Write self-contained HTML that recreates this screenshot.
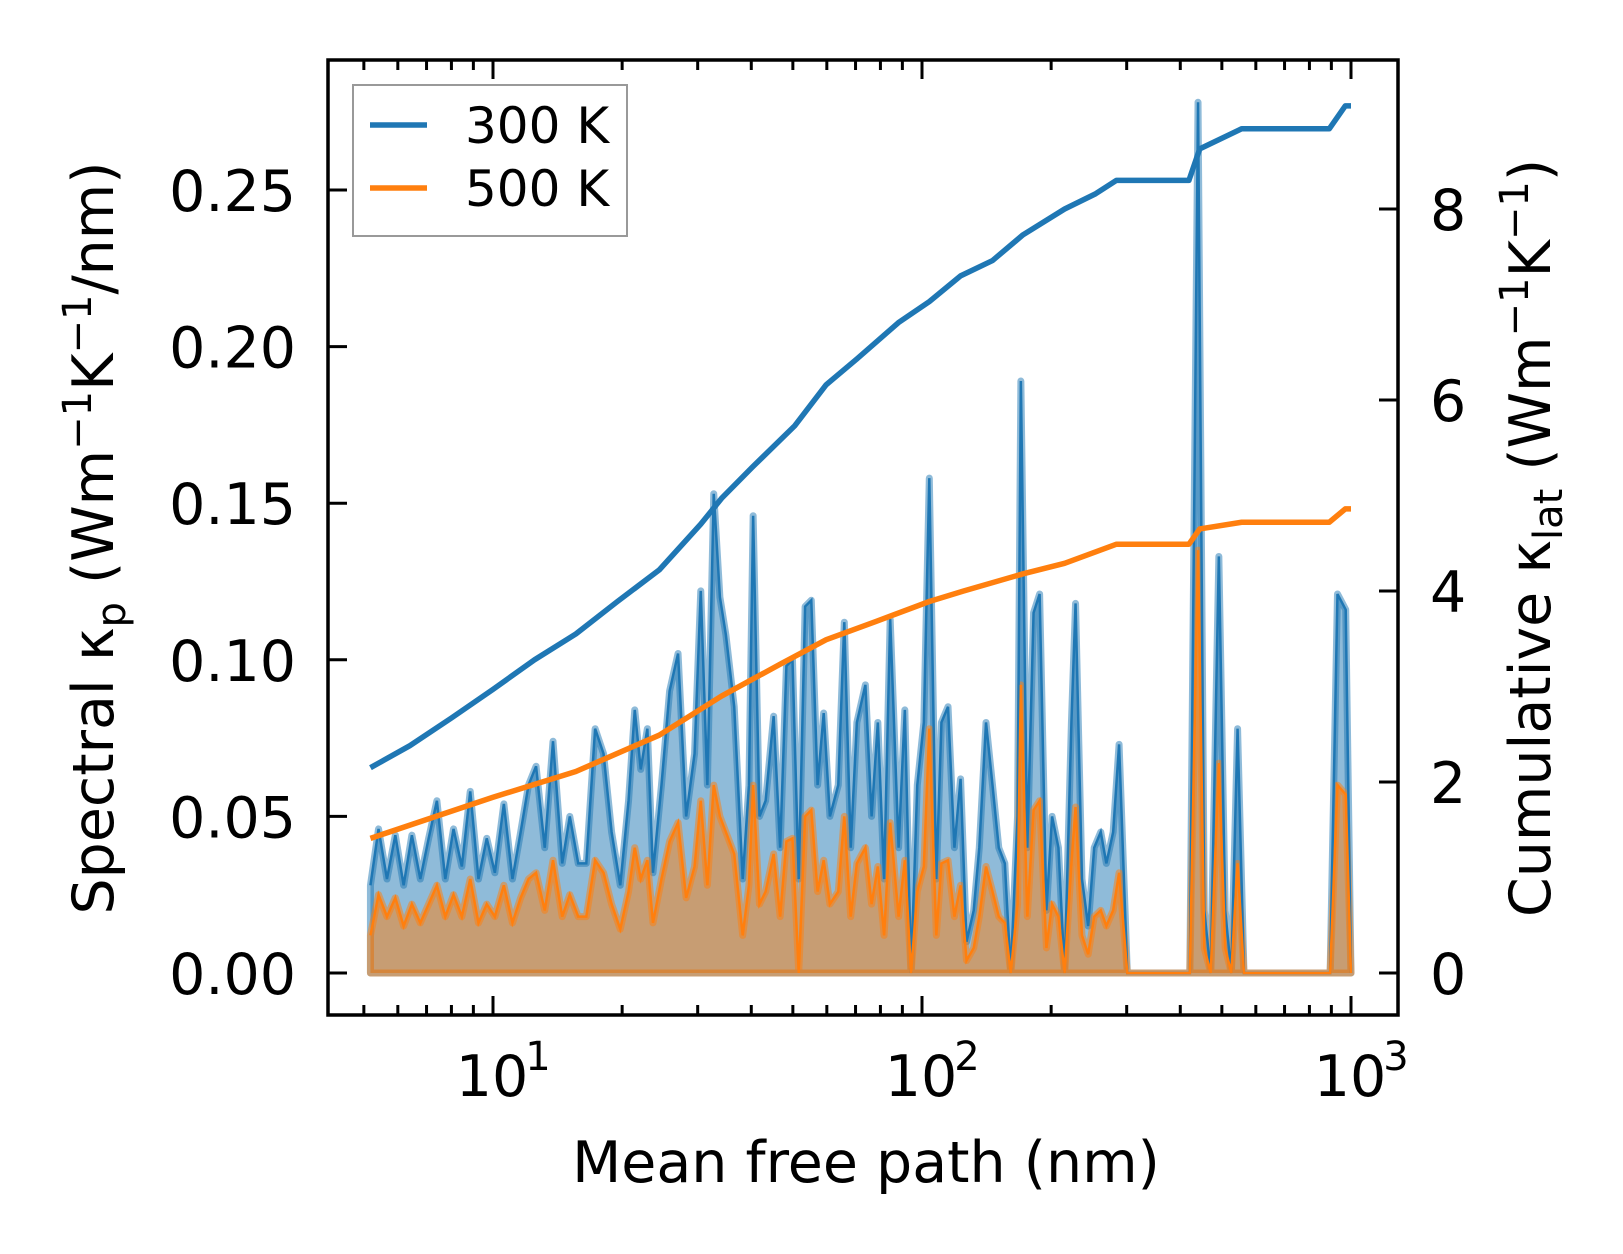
<!DOCTYPE html>
<html><head><meta charset="utf-8">
<style>
html,body{margin:0;padding:0;background:#fff;}
svg{display:block;font-family:"DejaVu Sans","Liberation Sans",sans-serif;}
</style></head>
<body>
<svg id="chart" width="1623" height="1254" viewBox="0 0 1623 1254" xmlns="http://www.w3.org/2000/svg">
<g id="fills"></g>
<g id="lines"></g>
<g id="axes"></g>
</svg>
<script>
const specMfp=[5.18,5.41,5.66,5.92,6.19,6.47,6.77,7.08,7.40,7.74,8.09,8.46,8.85,9.25,9.67,10.1,10.6,11.1,11.6,12.1,12.6,13.2,13.8,14.5,15.1,15.8,16.5,17.3,18.1,18.9,19.8,20.7,21.4,22.1,22.9,23.6,24.7,25.8,27.0,28.2,29.5,30.5,31.6,32.7,33.8,34.9,36.5,38.2,39.5,40.4,41.8,43.2,45.1,46.7,48.3,49.9,51.6,53.4,55.2,57.1,59.0,61.0,63.8,65.9,68.2,70.5,73.8,76.3,78.9,81.6,84.3,88.2,91.2,94.3,97.5,101,104,108,111,115,119,123,127,132,136,141,146,151,156,161,167,170,176,182,188,195,201,208,215,223,228,236,244,252,261,269,279,288,301,421,440,455,471,492,509,526,544,563,894,930,972,1000];
const spec300=[.028,.046,.030,.044,.028,.044,.030,.043,.055,.030,.046,.034,.058,.030,.043,.032,.054,.030,.045,.060,.066,.040,.074,.035,.050,.035,.035,.078,.070,.045,.028,.055,.084,.065,.078,.032,.060,.090,.102,.050,.070,.122,.060,.153,.120,.108,.085,.030,.060,.146,.050,.055,.082,.040,.098,.100,.030,.117,.119,.060,.083,.050,.060,.112,.040,.080,.092,.050,.080,.030,.113,.040,.084,0,.060,.080,.158,.030,.080,.085,.040,.062,.010,.020,.040,.080,.060,.040,.035,0,.050,.189,.040,.115,.121,.020,.050,.040,0,.080,.118,.030,.015,.040,.045,.035,.045,.073,0,0,.278,.020,0,.133,.020,0,.078,0,0,.121,.116,0];
const spec500=[.012,.025,.018,.024,.015,.022,.016,.022,.028,.018,.025,.018,.030,.016,.022,.018,.028,.016,.024,.030,.032,.020,.036,.018,.025,.018,.018,.036,.032,.022,.014,.026,.040,.030,.036,.016,.030,.042,.048,.024,.034,.055,.028,.060,.050,.045,.038,.012,.028,.060,.022,.026,.038,.018,.042,.043,0,.050,.052,.026,.036,.022,.026,.050,.018,.035,.040,.022,.034,.012,.048,.018,.036,0,.026,.034,.078,.012,.035,.036,.018,.028,.004,.008,.018,.034,.026,.018,.016,0,.022,.092,.018,.052,.055,.008,.022,.018,0,.035,.053,.012,.006,.018,.020,.015,.020,.032,0,0,.135,.008,0,.067,.008,0,.035,0,0,.060,.057,0];
const cumMfp300=[5.18,6.4,8.0,10,12.5,15.6,19.5,24.4,30.5,34.1,40.3,50.5,59.8,70.5,88.1,104,123,146,172,215,254,284,419,444,556,890,970,1000];
const cum300=[2.15,2.38,2.67,2.97,3.28,3.55,3.89,4.22,4.70,4.97,5.30,5.73,6.16,6.43,6.81,7.03,7.30,7.46,7.73,8.0,8.16,8.30,8.30,8.63,8.84,8.84,9.08,9.08];
const cumMfp500=[5.18,10,15.6,24.4,34.1,47,59.8,78,104,125,172,215,284,419,444,556,890,970,1000];
const cum500=[1.41,1.84,2.11,2.49,2.90,3.24,3.49,3.68,3.89,4.0,4.18,4.29,4.49,4.49,4.65,4.72,4.72,4.86,4.86];
const leftTicks=[0,0.05,0.10,0.15,0.20,0.25];
const leftTickLabels=["0.00","0.05","0.10","0.15","0.20","0.25"];
const rightTicks=[0,2,4,6,8];
const xDecades=[1,2,3];

const L=328,R=1398,T=60,B=1015;
const X=m=>1351-429*(3-Math.log10(m));
const YL=v=>973-v*(783/0.25);
const YR=v=>973-v*95.5;
const NS="http://www.w3.org/2000/svg";
function mk(tag,parent,attrs){const e=document.createElementNS(NS,tag);for(const k in attrs)e.setAttribute(k,attrs[k]);parent.appendChild(e);return e;}
const fills=document.getElementById('fills'),lines=document.getElementById('lines'),axes=document.getElementById('axes');

function fillPts(xs,ys){let p=xs.map((m,i)=>X(m)+','+YL(ys[i]));p.push(X(xs[xs.length-1])+','+YL(0));p.push(X(xs[0])+','+YL(0));return p.join(' ');}
function linePts(xs,ys,f){return xs.map((m,i)=>X(m)+','+f(ys[i])).join(' ');}

let f1=mk('polygon',fills,{points:fillPts(specMfp,spec300),fill:'rgba(31,119,180,0.5)',stroke:'rgba(31,119,180,0.5)','stroke-width':7,'stroke-linejoin':'round'});

let f2=mk('polygon',fills,{points:fillPts(specMfp,spec500),fill:'rgba(255,127,14,0.5)',stroke:'rgba(255,127,14,0.5)','stroke-width':7,'stroke-linejoin':'round'});

let l1=mk('polyline',lines,{points:linePts(specMfp,spec300,YL),fill:'none',stroke:'#1f77b4','stroke-width':2.5});

let l2=mk('polyline',lines,{points:linePts(specMfp,spec500,YL),fill:'none',stroke:'#ff7f0e','stroke-width':2.5});

let c1=mk('polyline',lines,{points:linePts(cumMfp300,cum300,YR),fill:'none',stroke:'#1f77b4','stroke-width':5.5,'stroke-linejoin':'round'});

let c2=mk('polyline',lines,{points:linePts(cumMfp500,cum500,YR),fill:'none',stroke:'#ff7f0e','stroke-width':5.5,'stroke-linejoin':'round'});


let fr=mk('rect',axes,{x:L,y:T,width:R-L,height:B-T,fill:'none',stroke:'#000','stroke-width':3.5});

leftTicks.forEach((v,i)=>{
  const y=YL(v);
  let t=mk('line',axes,{x1:L,x2:L+19,y1:y,y2:y,stroke:'#000','stroke-width':3});
  
  let tx=mk('text',axes,{x:296,y:y+21,'text-anchor':'end','font-size':57,fill:'#000'});
  tx.textContent=leftTickLabels[i];
  
});
rightTicks.forEach(v=>{
  const y=YR(v);
  let t=mk('line',axes,{x1:R-19,x2:R,y1:y,y2:y,stroke:'#000','stroke-width':3});
  
  let tx=mk('text',axes,{x:1430,y:y+21,'text-anchor':'start','font-size':57,fill:'#000'});
  tx.textContent=String(v);
  
});
for(let d=0;d<=3;d++){
  for(let k=1;k<=9;k++){
    const m=k*Math.pow(10,d);const x=X(m);
    if(x<L+2||x>R-2)continue;
    const len=k===1?19:10;
    let b=mk('line',axes,{x1:x,x2:x,y1:B,y2:B-len,stroke:'#000','stroke-width':3});
    
    let tp=mk('line',axes,{x1:x,x2:x,y1:T,y2:T+len,stroke:'#000','stroke-width':3});
    
  }
}
xDecades.forEach(d=>{
  const x=X(Math.pow(10,d));
  let tx=mk('text',axes,{x:x-1,y:1096,'text-anchor':'middle','font-size':57,fill:'#000'});
  tx.textContent='10';
  
  let sp=mk('text',axes,{x:x+45,y:1070,'text-anchor':'middle','font-size':40,fill:'#000'});
  sp.textContent=String(d);
  
});
</script>
<svg style="position:absolute;left:0;top:0" width="1623" height="1254">
<text x="866" y="1182" text-anchor="middle" font-size="57" font-family="DejaVu Sans, sans-serif">Mean free path (nm)</text>
<text transform="translate(113,538) rotate(-90)" text-anchor="middle" font-size="57" font-family="DejaVu Sans, sans-serif">Spectral κ<tspan font-size="40" dy="12">p</tspan><tspan dy="-12"> (Wm</tspan><tspan font-size="40" dy="-22">−1</tspan><tspan dy="22">K</tspan><tspan font-size="40" dy="-22">−1</tspan><tspan dy="22">/nm)</tspan></text>
<text transform="translate(1550,538) rotate(-90)" text-anchor="middle" font-size="57" font-family="DejaVu Sans, sans-serif">Cumulative κ<tspan font-size="40" dy="12">lat</tspan><tspan dy="-12"> (Wm</tspan><tspan font-size="40" dy="-22">−1</tspan><tspan dy="22">K</tspan><tspan font-size="40" dy="-22">−1</tspan><tspan dy="22">)</tspan></text>
<g>
<rect x="353" y="85" width="274" height="151" fill="#fff" fill-opacity="0.8" stroke="#999" stroke-width="2"/>
<line x1="370" x2="427" y1="125" y2="125" stroke="#1f77b4" stroke-width="5.5"/>
<text x="465" y="143" font-size="50" font-family="DejaVu Sans, sans-serif">300 K</text>
<line x1="370" x2="427" y1="188" y2="188" stroke="#ff7f0e" stroke-width="5.5"/>
<text x="465" y="206" font-size="50" font-family="DejaVu Sans, sans-serif">500 K</text>
</g>
</svg>
</body></html>
